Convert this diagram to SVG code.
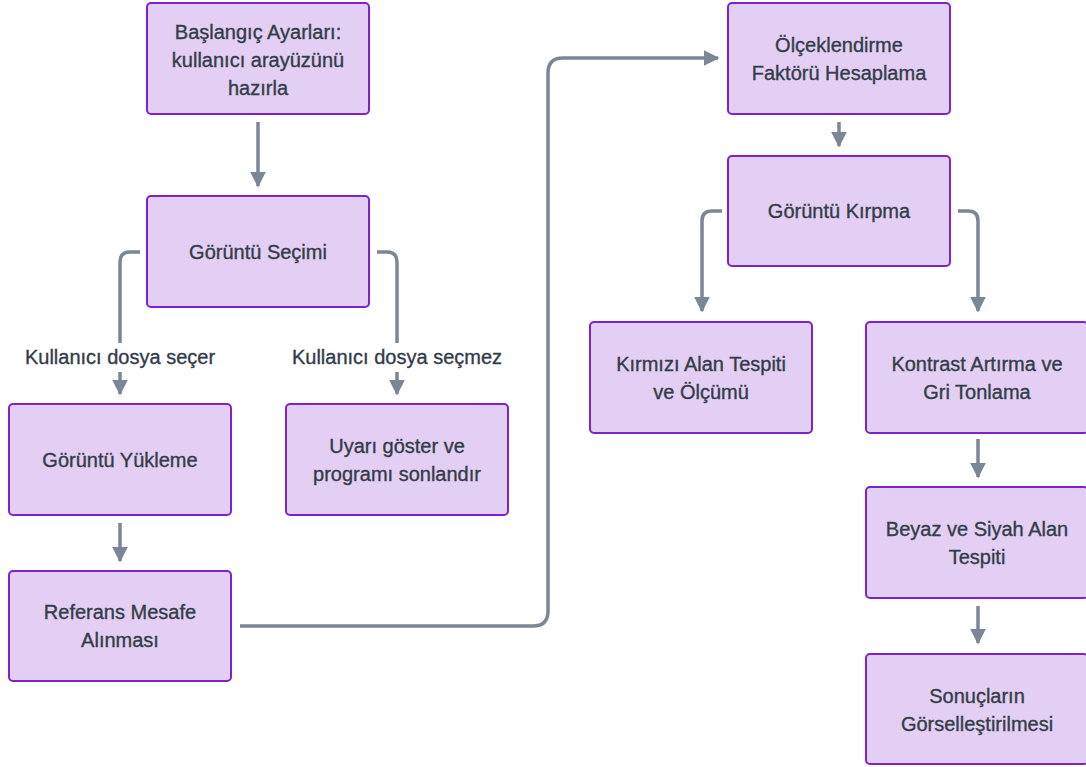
<svg xmlns="http://www.w3.org/2000/svg" width="1086" height="767" viewBox="0 0 1086 767">
<style>
.box{fill:#e3cff3;stroke:#7e22ce;stroke-width:2}
.t{font-family:"Liberation Sans",Arial,sans-serif;font-size:20px;fill:#333c49;stroke:#333c49;stroke-width:0.35;text-anchor:middle}
.c{fill:none;stroke:#7b8794;stroke-width:3.5}
</style>
<defs>
<marker id="ah" viewBox="0 0 10 10" refX="9" refY="5" markerWidth="4.6" markerHeight="4.6" markerUnits="strokeWidth" orient="auto">
<path d="M0,0 L10,5 L0,10 Z" fill="#7b8794"/>
</marker>
</defs>
<g id="connectors">
<path class="c" d="M258,122 V186" marker-end="url(#ah)"/>
<path class="c" d="M140,252 H130 Q120,252 120,262 V343"/>
<path class="c" d="M120,372 V394" marker-end="url(#ah)"/>
<path class="c" d="M377,252 H387 Q397,252 397,262 V343"/>
<path class="c" d="M397,372 V394" marker-end="url(#ah)"/>
<path class="c" d="M120,523 V561" marker-end="url(#ah)"/>
<path class="c" d="M240,626 H533 Q548,626 548,611 V73 Q548,58 563,58 H718" marker-end="url(#ah)"/>
<path class="c" d="M839,122 V146" marker-end="url(#ah)"/>
<path class="c" d="M722,211 H712 Q702,211 702,221 V311" marker-end="url(#ah)"/>
<path class="c" d="M958,211 H968 Q978,211 978,221 V311" marker-end="url(#ah)"/>
<path class="c" d="M978,439 V477" marker-end="url(#ah)"/>
<path class="c" d="M978,606 V643" marker-end="url(#ah)"/>
</g>
<g id="labels">
<text class="t" x="120" y="364">Kullanıcı dosya seçer</text>
<text class="t" x="397" y="364">Kullanıcı dosya seçmez</text>
</g>
<g id="n1"><rect class="box" x="147" y="3" width="222" height="111" rx="4"/>
<text class="t" x="258" y="39">Başlangıç Ayarları:</text>
<text class="t" x="258" y="67">kullanıcı arayüzünü</text>
<text class="t" x="258" y="95">hazırla</text></g>
<g id="n2"><rect class="box" x="147" y="196" width="222" height="111" rx="4"/>
<text class="t" x="258" y="259">Görüntü Seçimi</text></g>
<g id="n3"><rect class="box" x="9" y="404" width="222" height="111" rx="4"/>
<text class="t" x="120" y="467">Görüntü Yükleme</text></g>
<g id="n4"><rect class="box" x="286" y="404" width="222" height="111" rx="4"/>
<text class="t" x="397" y="453">Uyarı göster ve</text>
<text class="t" x="397" y="481">programı sonlandır</text></g>
<g id="n5"><rect class="box" x="9" y="571" width="222" height="110" rx="4"/>
<text class="t" x="120" y="619">Referans Mesafe</text>
<text class="t" x="120" y="647">Alınması</text></g>
<g id="n6"><rect class="box" x="728" y="3" width="222" height="111" rx="4"/>
<text class="t" x="839" y="52">Ölçeklendirme</text>
<text class="t" x="839" y="80">Faktörü Hesaplama</text></g>
<g id="n7"><rect class="box" x="728" y="156" width="222" height="110" rx="4"/>
<text class="t" x="839" y="218">Görüntü Kırpma</text></g>
<g id="n8"><rect class="box" x="590" y="322" width="222" height="111" rx="4"/>
<text class="t" x="701" y="371">Kırmızı Alan Tespiti</text>
<text class="t" x="701" y="399">ve Ölçümü</text></g>
<g id="n9"><rect class="box" x="866" y="322" width="222" height="111" rx="4"/>
<text class="t" x="977" y="371">Kontrast Artırma ve</text>
<text class="t" x="977" y="399">Gri Tonlama</text></g>
<g id="n10"><rect class="box" x="866" y="487" width="222" height="111" rx="4"/>
<text class="t" x="977" y="536">Beyaz ve Siyah Alan</text>
<text class="t" x="977" y="564">Tespiti</text></g>
<g id="n11"><rect class="box" x="866" y="654" width="222" height="110" rx="4"/>
<text class="t" x="977" y="703">Sonuçların</text>
<text class="t" x="977" y="731">Görselleştirilmesi</text></g>
</svg>
